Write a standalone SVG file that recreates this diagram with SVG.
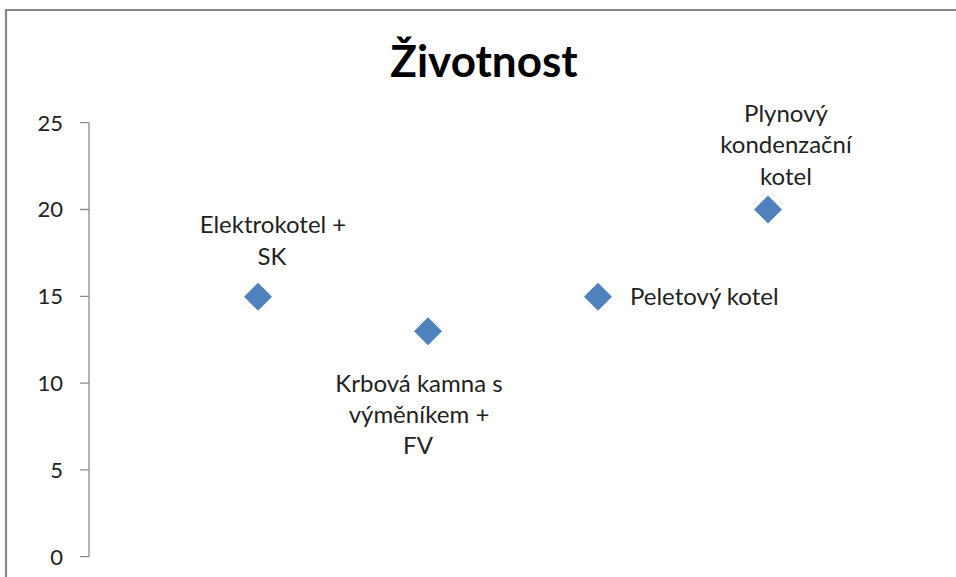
<svg xmlns="http://www.w3.org/2000/svg" width="956" height="577" viewBox="0 0 956 577">
<style>
  text { font-family: Lato, "Open Sans", "Liberation Sans", sans-serif; fill: #000; }
  .tick { font-size: 22px; text-anchor: end; fill: #222; }
  .lbl { font-size: 24px; fill: #222; }
  .mid { text-anchor: middle; }
  .axis { stroke: #8a8a8a; stroke-width: 1.3; fill: none; }
  .pt { fill: #4F81BD; }
</style>
<defs>
  <path id="dia" d="M0,-14 L14,0 L0,14 L-14,0 Z"/>
</defs>
<rect x="0" y="0" width="956" height="577" fill="#fff"/>
<path d="M6,577 L6,10 L956,10" fill="none" stroke="#868686" stroke-width="2.2"/>
<text x="484" y="77" font-size="44" font-weight="bold" text-anchor="middle">Životnost</text>
<g id="axis">
  <path class="axis" d="M89,122.7 L89,556.7"/>
  <path class="axis" d="M80,122.7 H89 M80,209.5 H89 M80,296.3 H89 M80,383.1 H89 M80,469.9 H89 M80,556.7 H89"/>
  <text class="tick" x="63" y="130.5">25</text>
  <text class="tick" x="63" y="217.3">20</text>
  <text class="tick" x="63" y="304.1">15</text>
  <text class="tick" x="63" y="390.9">10</text>
  <text class="tick" x="63" y="477.7">5</text>
  <text class="tick" x="63" y="564.5">0</text>
</g>
<g id="p1">
  <use href="#dia" class="pt" x="258" y="296.7"/>
  <text class="lbl mid" x="273" y="233">Elektrokotel +</text>
  <text class="lbl mid" x="272" y="265">SK</text>
</g>
<g id="p2">
  <use href="#dia" class="pt" x="428" y="331.3"/>
  <text class="lbl mid" x="419" y="392">Krbová kamna s</text>
  <text class="lbl mid" x="419" y="423">výměníkem +</text>
  <text class="lbl mid" x="418" y="454">FV</text>
</g>
<g id="p3">
  <use href="#dia" class="pt" x="598" y="296.7"/>
  <text class="lbl" x="630" y="305">Peletový kotel</text>
</g>
<g id="p4">
  <use href="#dia" class="pt" x="768" y="209.5"/>
  <text class="lbl mid" x="786" y="122">Plynový</text>
  <text class="lbl mid" x="786" y="153">kondenzační</text>
  <text class="lbl mid" x="786" y="185">kotel</text>
</g>
</svg>
